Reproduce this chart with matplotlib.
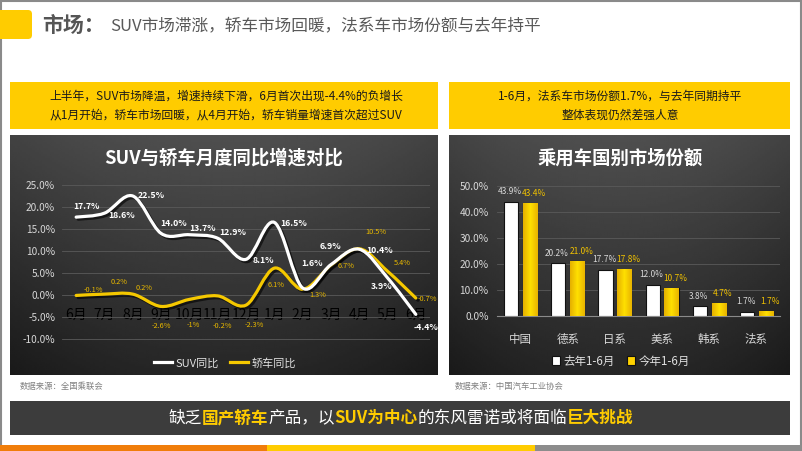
import numpy as np
import matplotlib
matplotlib.use("Agg")
import matplotlib.pyplot as plt
from matplotlib.path import Path
from matplotlib.patches import PathPatch, Rectangle, FancyBboxPatch
import matplotlib.patheffects as pe

plt.rcParams['font.family'] = ['Noto Sans CJK SC', 'DejaVu Sans']

# ---------------- data ----------------
months = ["6月", "7月", "8月", "9月", "10月", "11月", "12月", "1月", "2月", "3月", "4月", "5月", "6月"]
suv_yoy = [17.7, 18.6, 22.5, 14.0, 13.7, 12.9, 8.1, 16.5, 1.6, 6.9, 10.4, 3.9, -4.4]
sedan_yoy = [-0.1, 0.2, 0.2, -2.6, -1, -0.2, -2.3, 6.1, 1.3, 6.7, 10.5, 5.4, -0.7]
suv_labels = ["17.7%", "18.6%", "22.5%", "14.0%", "13.7%", "12.9%", "8.1%", "16.5%", "1.6%", "6.9%", "10.4%", "3.9%", "-4.4%"]
sedan_labels = ["-0.1%", "0.2%", "0.2%", "-2.6%", "-1%", "-0.2%", "-2.3%", "6.1%", "1.3%", "6.7%", "10.5%", "5.4%", "-0.7%"]
line_yticks = [-10, -5, 0, 5, 10, 15, 20, 25]

countries = ["中国", "德系", "日系", "美系", "韩系", "法系"]
share_last = [43.9, 20.2, 17.7, 12.0, 3.8, 1.7]
share_this = [43.4, 21.0, 17.8, 10.7, 4.7, 1.7]
bar_yticks = [0, 10, 20, 30, 40, 50]

W, H = 802, 451
fig = plt.figure(figsize=(W / 100, H / 100), dpi=100)
fig.patch.set_facecolor("white")


def rect(x0, y0, x1, y1):
    """pixel box (top-left origin) -> figure rect"""
    return [x0 / W, 1 - y1 / H, (x1 - x0) / W, (y1 - y0) / H]


def fx(x):
    return x / W


def fy(y):
    return 1 - y / H


YEL = "#FFCC00"

# background/decoration axis
deco = fig.add_axes([0, 0, 1, 1])
deco.set_xlim(0, W)
deco.set_ylim(H, 0)
deco.axis("off")
# frame
deco.add_patch(Rectangle((0.5, 0.5), W - 1.5, H - 1, fill=False, ec="#8a8a8a", lw=1.5))
# title square
deco.add_patch(FancyBboxPatch((-6, 10), 38, 29, boxstyle="round,pad=0,rounding_size=4",
                              fc=YEL, ec="none"))
deco.text(42, 25, "市场：", fontsize=15, fontweight="bold", color="#555555", va="center", ha="left")
deco.text(110, 26, "SUV市场滞涨，轿车市场回暖，法系车市场份额与去年持平", fontsize=12.0,
          color="#595959", va="center", ha="left")
# yellow boxes
deco.add_patch(Rectangle((10, 82), 428, 47, fc=YEL, ec="none"))
deco.add_patch(Rectangle((449, 82), 341, 47, fc=YEL, ec="none"))
deco.text(226, 96, "上半年，SUV市场降温，增速持续下滑，6月首次出现-4.4%的负增长",
          fontsize=8.5, color="#1a1a1a", ha="center", va="center")
deco.text(226, 115, "从1月开始，轿车市场回暖，从4月开始，轿车销量增速首次超过SUV",
          fontsize=8.5, color="#1a1a1a", ha="center", va="center")
deco.text(620, 96, "1-6月，法系车市场份额1.7%，与去年同期持平",
          fontsize=8.5, color="#1a1a1a", ha="center", va="center")
deco.text(620, 115, "整体表现仍然差强人意",
          fontsize=8.5, color="#1a1a1a", ha="center", va="center")

# gradient panels
gy = np.linspace(0, 1, 120)[:, None]
gx = np.linspace(-1, 1, 200)[None, :]
grad = 0.31 - 0.16 * gy - 0.05 * gx ** 2
for (x0, x1) in [(10, 438), (449, 790)]:
    deco.imshow(grad, extent=(x0, x1, 375, 135), cmap="gray", vmin=0, vmax=1,
                aspect="auto", zorder=1, interpolation="bilinear")
deco.set_xlim(0, W)
deco.set_ylim(H, 0)

deco.text(20, 386, "数据来源：全国乘联会", fontsize=6, color="#808080", va="center")
deco.text(455, 386, "数据来源：中国汽车工业协会", fontsize=6, color="#808080", va="center")

# bottom bar
deco.add_patch(Rectangle((10, 401), 780, 34, fc="#3c3c3c", ec="none"))
segs = [("缺乏", "white", "normal"), ("国产轿车", YEL, "bold"), ("产品，以", "white", "normal"),
        ("SUV为中心", YEL, "bold"), ("的东风雷诺或将面临", "white", "normal"), ("巨大挑战", YEL, "bold")]
fig.canvas.draw()
r = fig.canvas.get_renderer()
texts = []
for s, c, w in segs:
    t = deco.text(0, 418, s, fontsize=12.0, color=c, fontweight=w, va="center", ha="left")
    texts.append(t)
widths = [t.get_window_extent(r).width for t in texts]
total = sum(widths)
xpos = 401 - total / 2
for t, wdt in zip(texts, widths):
    t.set_x(xpos)
    xpos += wdt
# stripe
deco.add_patch(Rectangle((0, 445), 267, 6, fc="#F07D0A", ec="none"))
deco.add_patch(Rectangle((267, 445), 268, 6, fc=YEL, ec="none"))
deco.add_patch(Rectangle((535, 445), 267, 6, fc="#8c8c8c", ec="none"))

# ---------------- line chart ----------------
ax = fig.add_axes(rect(62, 176.2, 430, 347.8))
ax.set_facecolor("none")
x = np.arange(len(months))
ax.set_xlim(-0.5, len(months) - 0.5)
ax.set_ylim(-12, 27)


def smooth_path(xs, ys, t=0.5):
    verts = [(xs[0], ys[0])]
    codes = [Path.MOVETO]
    n = len(xs)
    for i in range(n - 1):
        p0 = np.array([xs[max(i - 1, 0)], ys[max(i - 1, 0)]])
        p1 = np.array([xs[i], ys[i]])
        p2 = np.array([xs[i + 1], ys[i + 1]])
        p3 = np.array([xs[min(i + 2, n - 1)], ys[min(i + 2, n - 1)]])
        c1 = p1 + (p2 - p0) * t / 3
        c2 = p2 - (p3 - p1) * t / 3
        verts += [tuple(c1), tuple(c2), tuple(p2)]
        codes += [Path.CURVE4] * 3
    return Path(verts, codes)


shadow = [pe.SimpleLineShadow(offset=(1.5, -1.5), shadow_color="black", alpha=0.6), pe.Normal()]
ax.add_patch(PathPatch(smooth_path(x, sedan_yoy, 0.5), fill=False, ec="#F5C800", lw=2.3,
                       zorder=3, path_effects=shadow, capstyle="round"))
ax.add_patch(PathPatch(smooth_path(x, suv_yoy, 0.5), fill=False, ec="white", lw=2.3,
                       zorder=4, path_effects=shadow, capstyle="round"))
# legend proxies
ax.plot([], [], color="white", lw=2.3, label="SUV同比")
ax.plot([], [], color="#F5C800", lw=2.3, label="轿车同比")

suv_off = [(10, 11), (17, -2), (18, 0), (12, 10), (13, 6), (15, 6), (17, -1), (19, -1),
           (9, 24), (0, 18), (20, -1), (-6, -9), (10, -13)]
sed_off = [(17, 5), (15, 12), (11, 6), (0, -20), (4, -26), (5, -30), (8, -20), (2, -17),
           (15, -6), (15, 0), (17, 17), (15, 8), (12, -1)]
for i in range(len(months)):
    ax.annotate(suv_labels[i], (x[i], suv_yoy[i]), xytext=(suv_off[i][0] * 0.72, suv_off[i][1] * 0.72),
                textcoords="offset points", ha="center", va="center", fontsize=6.3,
                fontweight="bold", color="white", zorder=6)
    ax.annotate(sedan_labels[i], (x[i], sedan_yoy[i]), xytext=(sed_off[i][0] * 0.72, sed_off[i][1] * 0.72),
                textcoords="offset points", ha="center", va="center", fontsize=5.3,
                color="#E8B800", zorder=6)

ax.set_yticks(line_yticks)
ax.set_yticklabels([f"{v:.1f}%" for v in line_yticks], fontsize=7.3, color="#d9d9d9")
ax.yaxis.grid(True, color="#5a5a5a", lw=0.6)
ax.set_axisbelow(True)
ax.set_xticks(x)
ax.set_xticklabels(months, fontsize=5.2, color="#c0c0c0", style="italic")
ax.spines["bottom"].set_position(("data", 0))
for s in ax.spines.values():
    s.set_visible(False)
ax.tick_params(axis="y", length=0, pad=5)
ax.tick_params(axis="x", length=0, pad=9)
fig.legend(loc="center", bbox_to_anchor=(fx(225), fy(363)), ncol=2, frameon=False,
           fontsize=8, labelcolor="#e0e0e0", handlelength=1.6, columnspacing=1.0,
           handletextpad=0.3, handles=ax.get_lines())
fig.text(fx(224), fy(158), "SUV与轿车月度同比增速对比", fontsize=13.2, fontweight="bold",
         color="white", ha="center", va="center")

# ---------------- bar chart ----------------
bx = fig.add_axes(rect(497, 186, 780, 316))
bx.set_facecolor("none")
xc = np.arange(len(countries))
bx.set_xlim(-0.5, len(countries) - 0.5)
bx.set_ylim(0, 50)
bw = 0.3
b1 = bx.bar(xc - 0.2, share_last, bw, color="white", edgecolor="#111111", lw=0.8, zorder=3,
            label="去年1-6月")
b2 = bx.bar(xc + 0.2, share_this, bw, color="#FFD200", edgecolor="#111111", lw=0.8, zorder=3,
            label="今年1-6月")
for rct in b2:
    xx, yy, ww, hh = rct.get_x(), rct.get_y(), rct.get_width(), rct.get_height()
    g = np.linspace(0, 1, 50)[None, :]
    bx.imshow(np.concatenate([g, g]), extent=(xx, xx + ww, yy, yy + hh), aspect="auto",
              cmap=matplotlib.colors.LinearSegmentedColormap.from_list("gy", ["#E5B000", "#FFE000", "#E8B400"]),
              zorder=3.5, clip_path=rct, clip_on=True)
bx.set_aspect("auto")
bx.set_xlim(-0.5, len(countries) - 0.5)
bx.set_ylim(0, 50)
for i in range(len(countries)):
    bx.annotate(f"{share_last[i]:.1f}%", (xc[i] - 0.2, share_last[i]), xytext=(-1, 4),
                textcoords="offset points", ha="center", va="bottom", fontsize=6.0,
                color="#d9d9d9", zorder=6, annotation_clip=False)
    bx.annotate(f"{share_this[i]:.1f}%", (xc[i] + 0.2, share_this[i]), xytext=(3, 4),
                textcoords="offset points", ha="center", va="bottom", fontsize=6.0,
                color="#F2C200", zorder=6, annotation_clip=False)
bx.set_yticks(bar_yticks)
bx.set_yticklabels([f"{v:.1f}%" for v in bar_yticks], fontsize=7.3, color="#d9d9d9")
bx.yaxis.grid(True, color="#5a5a5a", lw=0.6)
bx.set_axisbelow(True)
bx.set_xticks(xc)
bx.set_xticklabels(countries, fontsize=8.3, color="#d9d9d9")
for s in ["top", "left", "right"]:
    bx.spines[s].set_visible(False)
bx.spines["bottom"].set_color("#8a8a8a")
bx.tick_params(axis="y", length=0, pad=6)
bx.tick_params(axis="x", length=0, pad=12)
fig.legend(handles=[b1, b2], loc="center", bbox_to_anchor=(fx(621), fy(361)), ncol=2,
           frameon=False, fontsize=8.3, labelcolor="#e0e0e0", handlelength=0.7,
           handleheight=0.9, columnspacing=1.0, handletextpad=0.3)
fig.text(fx(620), fy(158), "乘用车国别市场份额", fontsize=13.2, fontweight="bold",
         color="white", ha="center", va="center")

fig.savefig("out.png", dpi=100, facecolor="white")
